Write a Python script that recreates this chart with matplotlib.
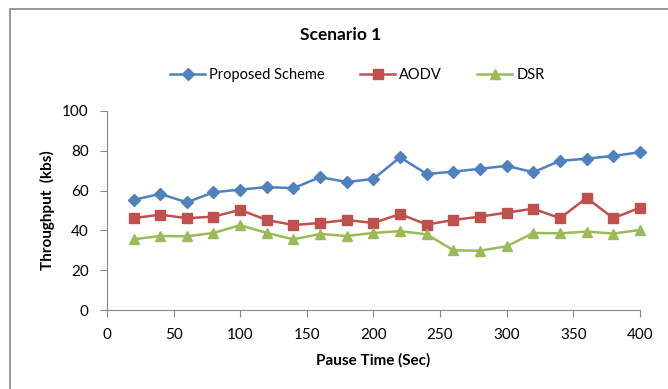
import matplotlib.pyplot as plt
from matplotlib.patches import Rectangle

plt.rcParams['font.family'] = ['Lato', 'DejaVu Sans']

# pause time (sec)
pause_time = [20, 40, 60, 80, 100, 120, 140, 160, 180, 200,
              220, 240, 260, 280, 300, 320, 340, 360, 380, 400]

# throughput (kbs)
proposed = [55.3, 58.3, 54.1, 59.1, 60.5, 61.7, 61.2, 66.7, 64.3, 65.8,
            76.7, 68.3, 69.5, 70.9, 72.4, 69.2, 74.9, 76.0, 77.4, 79.2]
aodv = [46.1, 47.9, 46.1, 46.9, 50.3, 45.2, 42.7, 43.7, 45.2, 43.7,
        48.2, 42.9, 45.2, 46.9, 48.9, 50.9, 46.1, 56.3, 46.1, 51.4]
dsr = [35.5, 37.2, 37.0, 38.7, 42.6, 38.7, 35.5, 38.2, 37.2, 38.7,
       39.6, 38.0, 30.0, 29.8, 32.0, 38.7, 38.5, 39.4, 38.4, 40.2]

x_ticks = [0, 50, 100, 150, 200, 250, 300, 350, 400]
y_ticks = [0, 20, 40, 60, 80, 100]

fig = plt.figure(figsize=(6.68, 3.89), dpi=100)
ax = fig.add_axes([0.160, 0.203, 0.798, 0.512])

ax.plot(pause_time, proposed, color='#4F81BD', lw=1.8, marker='D', ms=6,
        label='Proposed Scheme', clip_on=False)
ax.plot(pause_time, aodv, color='#C0504D', lw=1.8, marker='s', ms=7.5,
        label='AODV', clip_on=False)
ax.plot(pause_time, dsr, color='#9BBB59', lw=1.8, marker='^', ms=7.5,
        label='DSR', clip_on=False)

ax.set_xlim(0, 400)
ax.set_ylim(0, 100)
ax.set_xticks(x_ticks)
ax.set_yticks(y_ticks)
for s in ['top', 'right']:
    ax.spines[s].set_visible(False)
for s in ['left', 'bottom']:
    ax.spines[s].set_color('#868686')
ax.tick_params(direction='out', length=5, color='#868686', labelsize=11,
               labelcolor='black', pad=8)

ax.set_xlabel('Pause Time (Sec)', fontsize=11, fontweight='bold', labelpad=8)
ax.set_ylabel('Throughput  (kbs)', fontsize=11, fontweight='bold', labelpad=5)

fig.text(0.51, 0.91, 'Scenario 1', ha='center', va='center',
         fontsize=12.5, fontweight='bold')
fig.legend(loc='center', bbox_to_anchor=(0.535, 0.807), ncol=3, frameon=False,
           fontsize=10.5, handlelength=2.4, columnspacing=2.4, handletextpad=0.3)

# chart area outline
fig.patches.append(Rectangle((10 / 668, -0.1), 1.2, 1 - 9 / 389 + 0.1,
                             transform=fig.transFigure, fill=False,
                             edgecolor='#868686', lw=1.2))

fig.savefig('out.png', dpi=100)
